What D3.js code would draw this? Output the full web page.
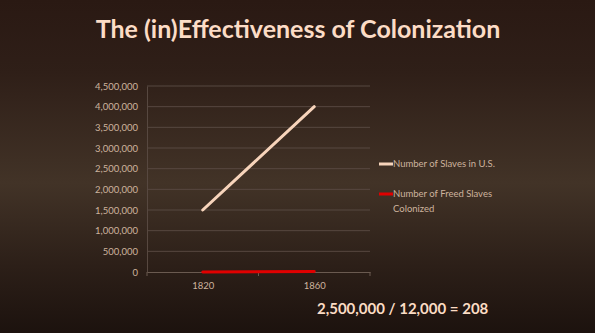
<!DOCTYPE html>
<html>
<head>
<meta charset="utf-8">
<script src="https://cdn.jsdelivr.net/npm/d3@7"></script>
<style>
  html, body { margin: 0; padding: 0; background: #1e130e; }
  svg { display: block; }
</style>
</head>
<body>
<div id="main"></div>
<script>
// chart data
var years = ['1820', '1860'];
var slaves = [1500000, 4000000];        // Number of Slaves in U.S.
var colonized = [0, 12000];             // Number of Freed Slaves Colonized
var yTicks = [0, 500000, 1000000, 1500000, 2000000, 2500000, 3000000, 3500000, 4000000, 4500000];
var seriesNames = ['Number of Slaves in U.S.', 'Number of Freed Slaves|Colonized'];
var seriesColors = ['#f7d4bb', '#e00000'];

const w = 595, h = 333;
const plotLeft = 147, plotRight = 370, plotTop = 86, plotBottom = 272;

const svg = d3.select('#main').append('svg')
    .attr('width', w)
    .attr('height', h);

// background gradient
const defs = svg.append('defs');
const grad = defs.append('linearGradient')
    .attr('id', 'bg')
    .attr('x1', 0).attr('y1', 0).attr('x2', 0).attr('y2', 1);
grad.append('stop').attr('offset', '0%').attr('stop-color', '#2a1913');
grad.append('stop').attr('offset', '22%').attr('stop-color', '#2f1f18');
grad.append('stop').attr('offset', '55%').attr('stop-color', '#423327');
grad.append('stop').attr('offset', '80%').attr('stop-color', '#2c1f18');
grad.append('stop').attr('offset', '100%').attr('stop-color', '#1c120e');

svg.append('rect')
    .attr('width', w).attr('height', h)
    .attr('fill', 'url(#bg)');

// title
svg.append('text')
    .attr('x', 298)
    .attr('y', 38)
    .attr('text-anchor', 'middle')
    .style('font-family', 'Lato, "Open Sans", sans-serif')
    .style('font-weight', 'bold')
    .style('font-size', '25px')
    .attr('fill', '#fcdcc6')
    .text('The (in)Effectiveness of Colonization');

// scales
const xBand = d3.scaleBand().domain(years).range([plotLeft, plotRight]);
const x = d3.scalePoint().domain(years).range([plotLeft, plotRight]).padding(0.5);
const y = d3.scaleLinear().domain([0, 4500000]).range([plotBottom, plotTop]);

// gridlines
svg.append('g')
    .selectAll('line')
    .data(yTicks.slice(1))
    .enter()
    .append('line')
    .attr('x1', plotLeft).attr('x2', plotRight)
    .attr('y1', d => y(d)).attr('y2', d => y(d))
    .attr('stroke', '#574840')
    .attr('stroke-width', 1);

// y axis
const yAxis = d3.axisLeft(y)
    .tickValues(yTicks)
    .tickFormat(d3.format(','))
    .tickSize(0)
    .tickPadding(9);

const gy = svg.append('g')
    .attr('transform', 'translate(' + plotLeft + ',0)')
    .call(yAxis);
gy.select('.domain').attr('stroke', '#574840');
gy.selectAll('text')
    .style('font-family', 'Lato, "Open Sans", sans-serif')
    .style('font-size', '9.5px')
    .attr('fill', '#cdb39e');

// x axis
const xAxis = d3.axisBottom(x).tickSize(0).tickPadding(10);
const gx = svg.append('g')
    .attr('transform', 'translate(0,' + plotBottom + ')')
    .call(xAxis);
gx.select('.domain').attr('stroke', '#6a5a50');
gx.selectAll('text')
    .style('font-family', 'Lato, "Open Sans", sans-serif')
    .style('font-size', '9.5px')
    .attr('fill', '#cdb39e');

// category boundary ticks
const bounds = years.map(d => xBand(d)).concat([xBand(years[years.length - 1]) + xBand.bandwidth()]);
svg.append('g')
    .selectAll('line')
    .data(bounds)
    .enter()
    .append('line')
    .attr('x1', d => d).attr('x2', d => d)
    .attr('y1', plotBottom).attr('y2', plotBottom + 4)
    .attr('stroke', '#6a5a50');

// lines
const line = d3.line()
    .x((d, i) => x(years[i]))
    .y(d => y(d));

[slaves, colonized].forEach((series, i) => {
    svg.append('path')
        .datum(series)
        .attr('d', line)
        .attr('fill', 'none')
        .attr('stroke', seriesColors[i])
        .attr('stroke-width', 3)
        .attr('stroke-linecap', 'round');
});

// legend
const legendY = [164, 194];
seriesNames.forEach((name, i) => {
    const g = svg.append('g').attr('transform', 'translate(379,' + legendY[i] + ')');
    g.append('line')
        .attr('x1', 0).attr('x2', 14)
        .attr('y1', 0).attr('y2', 0)
        .attr('stroke', seriesColors[i])
        .attr('stroke-width', 3);
    name.split('|').forEach((part, j) => {
        g.append('text')
            .attr('x', 14)
            .attr('y', 3 + j * 15)
            .style('font-family', 'Lato, "Open Sans", sans-serif')
            .style('font-size', '9.5px')
            .attr('fill', '#cdb39e')
            .text(part);
    });
});

// bottom note
svg.append('text')
    .attr('x', 317)
    .attr('y', 314)
    .style('font-family', 'Lato, "Open Sans", sans-serif')
    .style('font-weight', 'bold')
    .style('font-size', '15px')
    .attr('fill', '#fbdcc4')
    .text('2,500,000 / 12,000 = 208');
</script>
</body>
</html>
